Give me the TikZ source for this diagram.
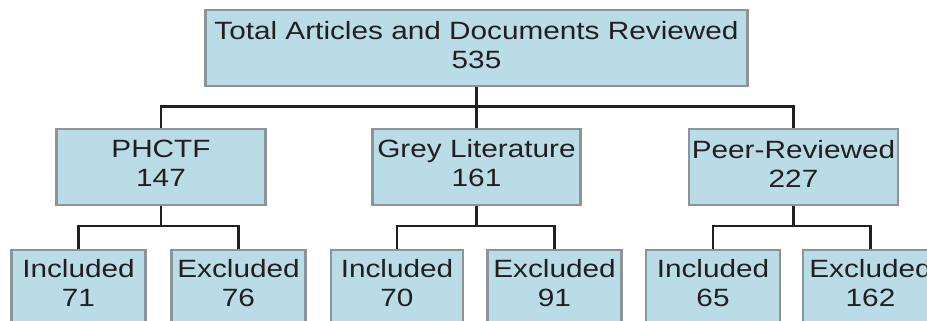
\documentclass[tikz,border=0pt]{standalone}
\usepackage{fontspec}
\setmainfont[FakeStretch=1.19]{Liberation Sans}
\usetikzlibrary{calc}
\definecolor{boxfill}{RGB}{185,220,230}
\definecolor{boxedge}{RGB}{138,148,153}
\definecolor{ink}{RGB}{35,31,32}
\begin{document}
\begin{tikzpicture}[x=1pt,y=-1pt,
  box/.style={draw=boxedge,fill=boxfill,line width=2.2pt,minimum height=76pt,inner sep=0pt,anchor=north},
  txt/.style={align=center,text=ink,font=\fontsize{25}{29}\selectfont,inner sep=0pt},
  conn/.style={draw=ink,line width=2.8pt}]
\useasboundingbox (0,0) rectangle (927,321);
% boxes
\node[box,minimum width=542pt] (top) at (476.5,9) {};
\node[box,minimum width=209pt] (ph) at (161,128) {};
\node[box,minimum width=208pt] (gl) at (476.5,128) {};
\node[box,minimum width=209pt] (pr) at (793.5,128) {};
\node[box,minimum width=134pt] (i1) at (78.5,249) {};
\node[box,minimum width=134pt] (e1) at (238.5,249) {};
\node[box,minimum width=132pt] (i2) at (397,249) {};
\node[box,minimum width=134pt] (e2) at (554.5,249) {};
\node[box,minimum width=134pt] (i3) at (713,249) {};
\node[box,minimum width=135pt] (e3) at (870.5,249) {};
% texts
\node[txt] (topt) at ($(top.north)+(0,36.5)$) {Total Articles and Documents Reviewed\\535};
\node[txt] (pht) at ($(ph.north)+(0,35.5)$) {PHCTF\\147};
\node[txt] (glt) at ($(gl.north)+(0,35.5)$) {Grey Literature\\161};
\node[txt] (prt) at ($(pr.north)+(0,35.5)$) {Peer-Reviewed\\227};
\node[txt] (i1t) at ($(i1.north)+(0,34)$) {Included\\71};
\node[txt] (e1t) at ($(e1.north)+(0,34)$) {Excluded\\76};
\node[txt] (i2t) at ($(i2.north)+(0,34)$) {Included\\70};
\node[txt] (e2t) at ($(e2.north)+(0,34)$) {Excluded\\91};
\node[txt] (i3t) at ($(i3.north)+(0,34)$) {Included\\65};
\node[txt] (e3t) at ($(e3.north)+(0,34)$) {Excluded\\162};
% bus coordinates
\coordinate (b0) at (476.5,106.5);
\coordinate (b1) at (161,226);
\coordinate (b2) at (476.5,226);
\coordinate (b3) at (793.5,226);
% connectors
\draw[conn] (top.south) -- (gl.north);
\draw[conn] (ph.north) |- (b0) -| (pr.north);
\draw[conn] (ph.south) -- (b1);
\draw[conn] (i1.north) |- (b1) -| (e1.north);
\draw[conn] (gl.south) -- (b2);
\draw[conn] (i2.north) |- (b2) -| (e2.north);
\draw[conn] (pr.south) -- (b3);
\draw[conn] (i3.north) |- (b3) -| (e3.north);
\end{tikzpicture}
\end{document}
